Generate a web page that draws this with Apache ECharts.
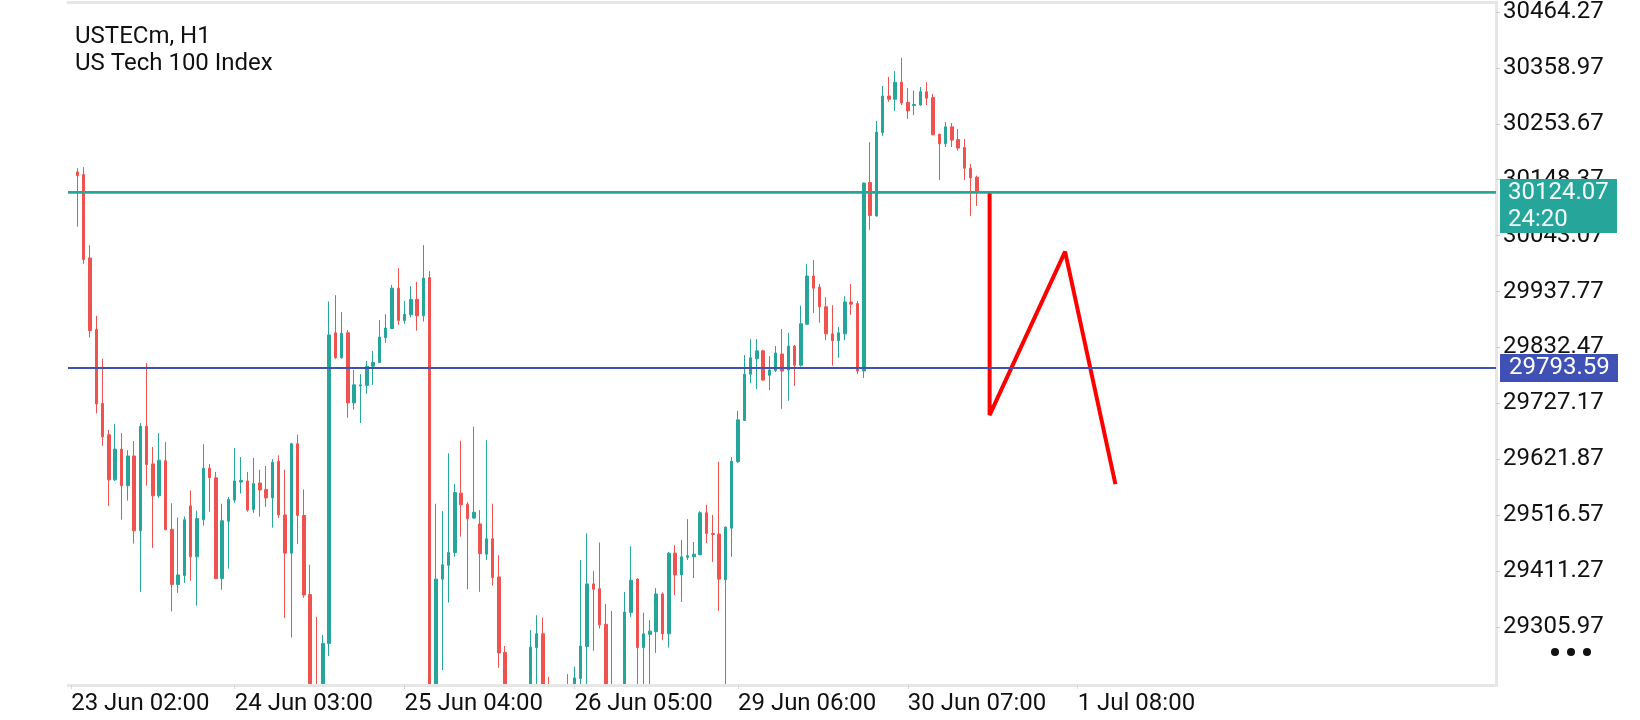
<!DOCTYPE html>
<html>
<head>
<meta charset="utf-8">
<title>USTECm, H1</title>
<script src="https://cdn.jsdelivr.net/npm/echarts@6/dist/echarts.min.js"></script>
<style>
  html, body { margin: 0; padding: 0; background: #fff; }
  #chart { width: 1640px; height: 720px; }
</style>
</head>
<body>
<div id="chart"></div>
<script>
// H1 bars from 23 Jun 02:00, each row is [open, high, low, close]
var candles = [
  [30163, 30170, 30060, 30156], [30158, 30172, 29990, 29998], [30001, 30025, 29851, 29864],
  [29866, 29892, 29708, 29726], [29727, 29811, 29647, 29664], [29668, 29677, 29534, 29583],
  [29583, 29688, 29581, 29641], [29641, 29671, 29508, 29572], [29572, 29639, 29544, 29628],
  [29628, 29656, 29463, 29487], [29487, 29690, 29372, 29684], [29684, 29803, 29572, 29612],
  [29613, 29645, 29455, 29553], [29553, 29671, 29549, 29620], [29619, 29654, 29488, 29489],
  [29490, 29539, 29335, 29386], [29386, 29512, 29370, 29404], [29403, 29514, 29389, 29508],
  [29534, 29563, 29393, 29438], [29438, 29525, 29346, 29510], [29508, 29650, 29497, 29605],
  [29605, 29613, 29523, 29587], [29587, 29598, 29396, 29397], [29397, 29538, 29376, 29506],
  [29505, 29551, 29416, 29546], [29545, 29643, 29540, 29581], [29579, 29626, 29557, 29582],
  [29581, 29598, 29523, 29526], [29527, 29624, 29521, 29576], [29577, 29602, 29514, 29564],
  [29565, 29609, 29532, 29549], [29549, 29622, 29493, 29616], [29618, 29629, 29511, 29517],
  [29517, 29602, 29323, 29445], [29445, 29653, 29286, 29651], [29651, 29668, 29462, 29516],
  [29516, 29565, 29361, 29366], [29367, 29423, 29100, 29130], [29130, 29325, 29060, 29085],
  [29085, 29291, 29070, 29275], [29275, 29919, 29251, 29856], [29860, 29931, 29811, 29813],
  [29813, 29899, 29811, 29859], [29860, 29865, 29700, 29728], [29728, 29790, 29715, 29762],
  [29760, 29782, 29690, 29762], [29761, 29807, 29745, 29797], [29797, 29826, 29762, 29804],
  [29804, 29884, 29803, 29852], [29851, 29895, 29841, 29869], [29868, 29950, 29867, 29944],
  [29944, 29982, 29875, 29883], [29883, 29920, 29877, 29895], [29894, 29948, 29889, 29923],
  [29923, 29956, 29864, 29892], [29892, 30025, 29881, 29963], [29964, 29976, 29095, 29110],
  [29110, 29538, 29100, 29396], [29396, 29524, 29225, 29423], [29422, 29633, 29352, 29446],
  [29446, 29575, 29438, 29559], [29558, 29657, 29476, 29536], [29537, 29541, 29377, 29510],
  [29511, 29683, 29510, 29522], [29500, 29526, 29372, 29444], [29443, 29658, 29432, 29472],
  [29472, 29538, 29384, 29399], [29400, 29441, 29229, 29257], [29258, 29270, 29140, 29160],
  [29160, 29185, 29110, 29130], [29130, 29170, 29105, 29150], [29150, 29195, 29140, 29185],
  [29185, 29300, 29170, 29268], [29267, 29328, 29180, 29293], [29293, 29324, 29130, 29150],
  [29150, 29212, 29090, 29110], [29110, 29160, 29080, 29140], [29140, 29185, 29120, 29170],
  [29170, 29217, 29140, 29160], [29160, 29231, 29150, 29210], [29209, 29432, 29190, 29270],
  [29269, 29482, 29195, 29387], [29387, 29411, 29261, 29377], [29378, 29465, 29303, 29310],
  [29311, 29349, 29155, 29170], [29170, 29336, 29110, 29130], [29130, 29175, 29115, 29165],
  [29165, 29372, 29150, 29334], [29333, 29458, 29325, 29394], [29396, 29398, 29185, 29267],
  [29267, 29333, 29190, 29293], [29292, 29319, 29195, 29298], [29297, 29379, 29257, 29368],
  [29368, 29371, 29281, 29293], [29293, 29447, 29267, 29445], [29445, 29460, 29366, 29404],
  [29404, 29470, 29353, 29438], [29437, 29509, 29432, 29440], [29438, 29466, 29398, 29443],
  [29442, 29524, 29441, 29521], [29521, 29536, 29464, 29482], [29482, 29517, 29428, 29480],
  [29481, 29617, 29336, 29396], [29395, 29495, 29180, 29494], [29492, 29626, 29438, 29618],
  [29617, 29713, 29615, 29696], [29695, 29818, 29694, 29782], [29782, 29848, 29765, 29813],
  [29811, 29848, 29754, 29826], [29826, 29828, 29770, 29771], [29780, 29816, 29752, 29790],
  [29789, 29835, 29786, 29822], [29820, 29867, 29717, 29788], [29790, 29860, 29732, 29835],
  [29835, 29837, 29760, 29799], [29799, 29911, 29796, 29877], [29876, 29990, 29875, 29967],
  [29967, 29997, 29897, 29944], [29946, 29952, 29879, 29909], [29909, 29927, 29846, 29858],
  [29858, 29912, 29798, 29845], [29845, 29871, 29813, 29860], [29858, 29929, 29846, 29918],
  [29918, 29952, 29894, 29914], [29915, 29920, 29782, 29788], [29788, 30143, 29775, 30142],
  [30143, 30219, 30054, 30081], [30080, 30259, 30079, 30238], [30237, 30325, 30231, 30306],
  [30306, 30342, 30295, 30300], [30300, 30353, 30278, 30332], [30332, 30378, 30289, 30293],
  [30294, 30321, 30263, 30278], [30288, 30316, 30270, 30290], [30289, 30323, 30288, 30314],
  [30314, 30332, 30289, 30302], [30303, 30310, 30232, 30233], [30234, 30235, 30148, 30216],
  [30216, 30257, 30210, 30248], [30248, 30255, 30210, 30223], [30224, 30244, 30203, 30208],
  [30209, 30225, 30148, 30170], [30170, 30178, 30080, 30152], [30153, 30156, 30099, 30124.07]
];

var timeLabels = ['23 Jun 02:00', '24 Jun 03:00', '25 Jun 04:00', '26 Jun 05:00',
                  '29 Jun 06:00', '30 Jun 07:00', '1 Jul 08:00'];
var timeLabelSlots = [0, 26, 53, 80, 106, 133, 160];
var slotCount = 227;   // bars on screen incl. the empty space on the right

var priceTicks = [29305.97, 29411.27, 29516.57, 29621.87, 29727.17, 29832.47,
                  29937.77, 30043.07, 30148.37, 30253.67, 30358.97, 30464.27];
var priceMin = 29196.6, priceMax = 30483.1;

var lastPrice = 30124.07;
var askPrice = 30125.9;
var countdown = '24:20';
var levelPrice = 29793.59;

// hand drawn zigzag, [slot, price]
var drawing = [[146, 30124.07], [146, 29705], [158, 30013], [166, 29575]];

var categories = [];
for (var i = 0; i < slotCount; i++) categories.push('');
timeLabelSlots.forEach(function (s, k) { categories[s] = timeLabels[k]; });

// slot 0 is left empty, bars start at slot 1
var candleData = candles.map(function (c, i) {
  return [i + 1, c[0], c[3], c[2], c[1]];
});

var green = '#26a69a', red = '#ef5350';
var font = 'Roboto';

var dom = document.getElementById('chart');
var myChart = echarts.init(dom);
var option = {
  animation: false,
  backgroundColor: '#ffffff',
  title: {
    text: 'USTECm, H1\nUS Tech 100 Index',
    left: 75,
    top: 23,
    padding: 0,
    textStyle: { fontSize: 24, fontWeight: 'normal', color: '#111', fontFamily: font, lineHeight: 27 }
  },
  grid: { left: 68, right: 144, top: 2, bottom: 35, outerBoundsMode: 'none' },
  xAxis: [
    {
      type: 'category',
      data: categories,
      boundaryGap: true,
      z: 60,
      axisLine: { lineStyle: { color: '#e6e6e6', width: 3 } },
      axisTick: {
        show: true,
        alignWithLabel: true,
        interval: function (idx) { return categories[idx] !== ''; },
        length: 4,
        lineStyle: { color: '#d6d6d6' }
      },
      axisLabel: { interval: 0, align: 'left', color: '#111', fontSize: 24, fontFamily: font, margin: 7 },
      splitLine: { show: false }
    },
    {
      type: 'category',
      data: categories,
      position: 'top',
      z: 60,
      axisLine: { lineStyle: { color: '#e6e6e6', width: 3 } },
      axisTick: { show: false },
      axisLabel: { show: false },
      splitLine: { show: false }
    }
  ],
  yAxis: {
    type: 'value',
    position: 'right',
    min: priceMin,
    max: priceMax,
    z: 60,
    axisLine: { show: true, lineStyle: { color: '#e6e6e6', width: 3 } },
    axisTick: { show: true, customValues: priceTicks, length: 4, lineStyle: { color: '#cccccc' } },
    axisLabel: {
      customValues: priceTicks,
      formatter: function (v) { return v.toFixed(2); },
      color: '#111', fontSize: 24, fontFamily: font, margin: 7
    },
    splitLine: { show: false }
  },
  series: [
    {
      type: 'candlestick',
      name: 'USTECm',
      data: candleData,
      encode: { x: 0, y: [1, 2, 3, 4] },
      barWidth: 3,
      z: 2,
      itemStyle: {
        color: green, color0: red,
        borderColor: green, borderColor0: red,
        borderWidth: 1
      },
      markLine: {
        symbol: 'none',
        silent: true,
        animation: false,
        z: 70,
        data: [
          { yAxis: askPrice, lineStyle: { color: red, width: 1, type: 'solid' }, label: { show: false } },
          {
            yAxis: lastPrice,
            lineStyle: { color: green, width: 2.5, type: 'solid' },
            label: {
              show: true, position: 'end', distance: 4,
              formatter: '{e| }\n{a|' + lastPrice.toFixed(2) + '}\n{a|' + countdown + '}',
              rich: {
                e: { height: 27, lineHeight: 27, fontSize: 24 },
                a: {
                  color: '#f2fbfa', backgroundColor: green, width: 99, height: 27, lineHeight: 27,
                  padding: [0, 10, 0, 8], fontSize: 24, fontFamily: font
                }
              }
            }
          },
          {
            yAxis: levelPrice,
            lineStyle: { color: '#3f51b5', width: 2, type: 'solid' },
            label: {
              show: true, position: 'end', distance: 4,
              formatter: levelPrice.toFixed(2),
              color: '#ffffff', backgroundColor: '#3f51b5',
              width: 99, lineHeight: 24, padding: [2, 10, 2, 9],
              fontSize: 24, fontFamily: font
            }
          }
        ]
      }
    },
    {
      type: 'line',
      name: 'drawing',
      data: drawing,
      symbol: 'none',
      silent: true,
      z: 5,
      lineStyle: { color: '#ff0000', width: 4, join: 'bevel' }
    }
  ],
  graphic: [
    // white strip under the plot so bars that run off the bottom are cut at the axis
    { type: 'rect', z: 50, silent: true, shape: { x: 0, y: 686, width: 1640, height: 34 }, style: { fill: '#ffffff' } },
    { type: 'circle', z: 50, shape: { cx: 1555, cy: 652, r: 4 }, style: { fill: '#111' } },
    { type: 'circle', z: 50, shape: { cx: 1571, cy: 652, r: 4 }, style: { fill: '#111' } },
    { type: 'circle', z: 50, shape: { cx: 1587, cy: 652, r: 4 }, style: { fill: '#111' } }
  ]
};

if (option && typeof option === 'object') {
  myChart.setOption(option, true);
}
</script>
</body>
</html>
